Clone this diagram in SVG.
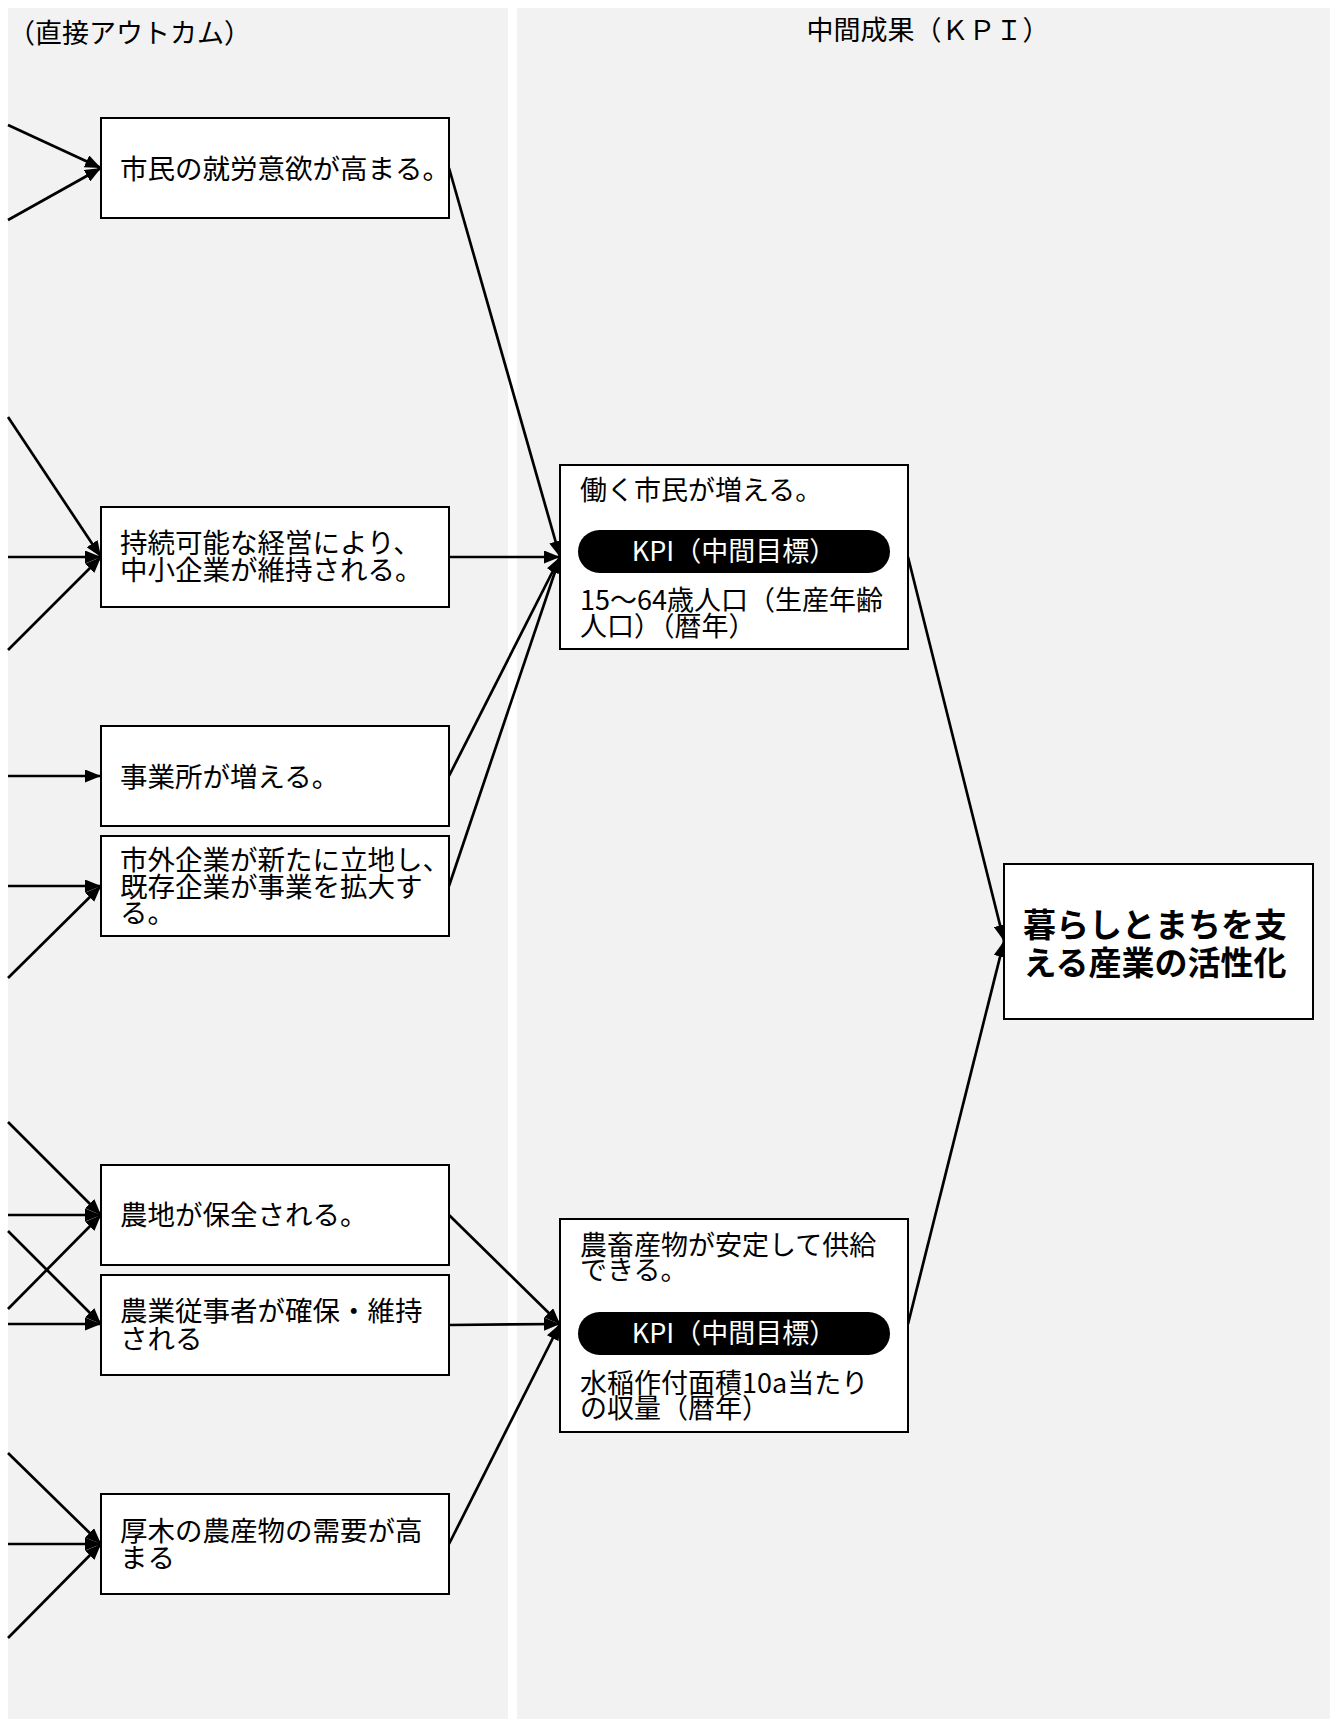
<svg xmlns="http://www.w3.org/2000/svg" width="1330" height="1719" viewBox="0 0 1330 1719">
<style>
.panel{fill:#f2f2f2}
.box{fill:#fff;stroke:#000;stroke-width:2}
.t{font-family:"Noto Sans CJK JP","Noto Sans",sans-serif;font-size:27.5px;fill:#000}
.k{font-family:"Noto Sans CJK JP","Noto Sans",sans-serif;font-size:27px;fill:#000}
.pill{fill:#000}
.pt{font-family:"Noto Sans CJK JP","Noto Sans",sans-serif;font-size:27px;fill:#fff;text-anchor:middle}
.h{font-family:"Noto Sans CJK JP","Noto Sans",sans-serif;font-size:27px;fill:#000}
.f{font-family:"Noto Sans CJK JP","Noto Sans",sans-serif;font-size:33px;font-weight:bold;fill:#000;text-anchor:middle}
.c line{stroke:#000;stroke-width:2.7;marker-end:url(#ah)}
</style>
<defs>
<marker id="ah" markerUnits="userSpaceOnUse" markerWidth="16" markerHeight="13" refX="16" refY="6.5" orient="auto" viewBox="0 0 16 13">
<path d="M0,0 L16,6.5 L0,13 Z" fill="#000"/>
</marker>
</defs>
<rect width="1330" height="1719" fill="#fff"/>
<g id="panels">
<rect class="panel" x="8" y="8" width="500" height="1711"/>
<rect class="panel" x="517" y="8" width="813" height="1711"/>
<text class="h" x="8" y="43">（直接アウトカム）</text>
<text class="h" x="928" y="40" text-anchor="middle">中間成果（ＫＰＩ）</text>
</g>
<g id="connectors" class="c">
<line x1="8" y1="125" x2="101" y2="168"/>
<line x1="8" y1="220" x2="101" y2="168"/>
<line x1="8" y1="417" x2="101" y2="557"/>
<line x1="8" y1="557" x2="101" y2="557"/>
<line x1="8" y1="650" x2="101" y2="557"/>
<line x1="8" y1="776" x2="101" y2="776"/>
<line x1="8" y1="886" x2="101" y2="886"/>
<line x1="8" y1="978" x2="101" y2="886"/>
<line x1="8" y1="1122" x2="101" y2="1215"/>
<line x1="8" y1="1215" x2="101" y2="1215"/>
<line x1="8" y1="1309" x2="101" y2="1215"/>
<line x1="8" y1="1231" x2="101" y2="1324"/>
<line x1="8" y1="1324" x2="101" y2="1324"/>
<line x1="8" y1="1453" x2="101" y2="1544"/>
<line x1="8" y1="1544" x2="101" y2="1544"/>
<line x1="8" y1="1638" x2="101" y2="1544"/>
<line x1="449" y1="168" x2="560" y2="557"/>
<line x1="449" y1="557" x2="560" y2="557"/>
<line x1="449" y1="776" x2="560" y2="557"/>
<line x1="449" y1="886" x2="560" y2="557"/>
<line x1="449" y1="1215" x2="560" y2="1324"/>
<line x1="449" y1="1325" x2="560" y2="1324"/>
<line x1="449" y1="1544" x2="560" y2="1324"/>
<line x1="908" y1="557" x2="1004" y2="941"/>
<line x1="908" y1="1324" x2="1004" y2="941"/>
</g>
<g id="n1"><rect class="box" x="101" y="118" width="348" height="100"/><text class="t" x="120" y="179">市民の就労意欲が高まる。</text></g>
<g id="n2"><rect class="box" x="101" y="507" width="348" height="100"/><text class="t" x="120" y="553">持続可能な経営により、<tspan x="120" dy="27">中小企業が維持される。</tspan></text></g>
<g id="n3"><rect class="box" x="101" y="726" width="348" height="100"/><text class="t" x="120" y="787">事業所が増える。</text></g>
<g id="n4"><rect class="box" x="101" y="836" width="348" height="100"/><text class="t" x="120" y="870">市外企業が新たに立地し、<tspan x="120" dy="26.5">既存企業が事業を拡大す</tspan><tspan x="120" dy="26.5">る。</tspan></text></g>
<g id="n5"><rect class="box" x="101" y="1165" width="348" height="100"/><text class="t" x="120" y="1225">農地が保全される。</text></g>
<g id="n6"><rect class="box" x="101" y="1275" width="348" height="100"/><text class="t" x="120" y="1321">農業従事者が確保・維持<tspan x="120" dy="27.5">される</tspan></text></g>
<g id="n7"><rect class="box" x="101" y="1494" width="348" height="100"/><text class="t" x="120" y="1541">厚木の農産物の需要が高<tspan x="120" dy="27">まる</tspan></text></g>
<g id="k1"><rect class="box" x="560" y="465" width="348" height="184"/><text class="k" x="580" y="500">働く市民が増える。</text><rect class="pill" x="578" y="530" width="312" height="43" rx="21.5"/><text class="pt" x="734" y="561">KPI（中間目標）</text><text class="k" x="580" y="610">15～64歳人口（生産年齢<tspan x="580" dy="26">人口）（暦年）</tspan></text></g>
<g id="k2"><rect class="box" x="560" y="1219" width="348" height="213"/><text class="k" x="580" y="1255">農畜産物が安定して供給<tspan x="580" dy="25">できる。</tspan></text><rect class="pill" x="578" y="1312" width="312" height="43" rx="21.5"/><text class="pt" x="734" y="1343">KPI（中間目標）</text><text class="k" x="580" y="1393">水稲作付面積10a当たり<tspan x="580" dy="25">の収量（暦年）</tspan></text></g>
<g id="goal"><rect class="box" x="1004" y="864" width="309" height="155"/><text class="f" x="1155" y="937">暮らしとまちを支<tspan x="1155" dy="38">える産業の活性化</tspan></text></g>
</svg>
